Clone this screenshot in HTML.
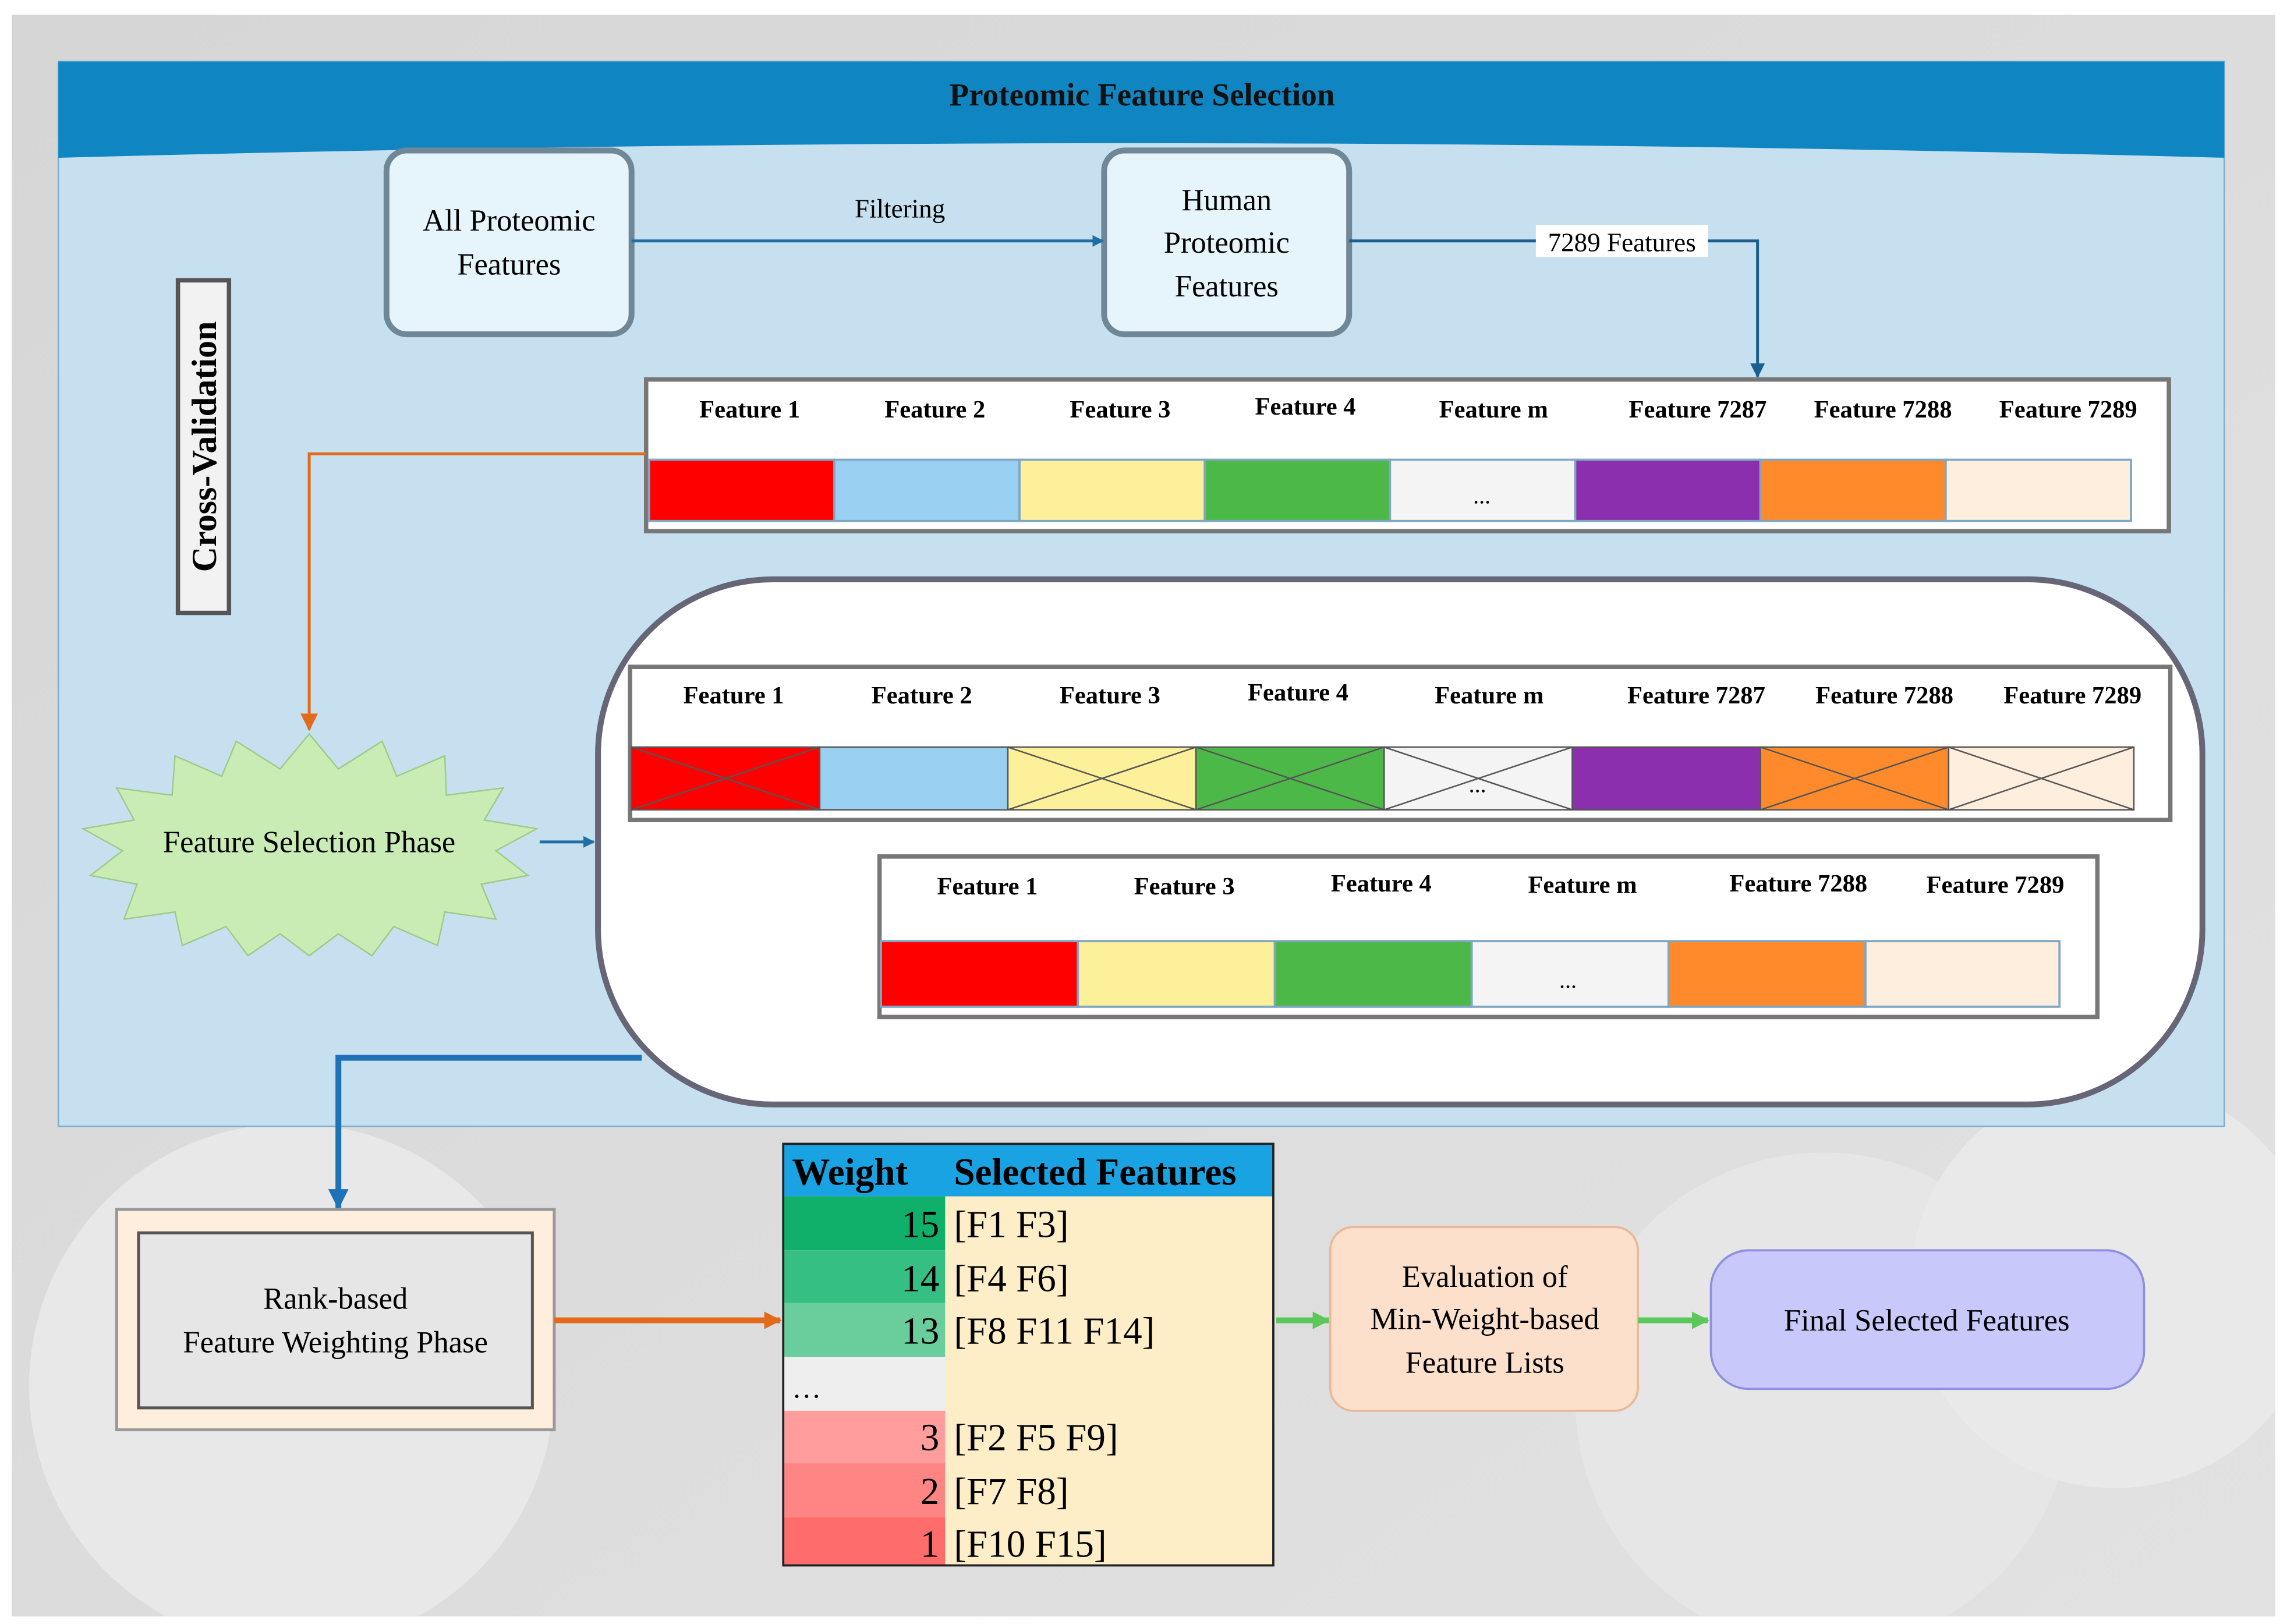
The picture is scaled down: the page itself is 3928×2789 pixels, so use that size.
<!DOCTYPE html>
<html><head><meta charset="utf-8"><style>
html,body{margin:0;padding:0;background:#fff}
svg{display:block}
text{font-family:"Liberation Serif",serif}
</style></head><body>
<svg width="3928" height="2789" viewBox="0 0 1568 1113" xmlns="http://www.w3.org/2000/svg">
<defs>
<linearGradient id="bg" x1="0" y1="0" x2="1" y2="1"><stop offset="0" stop-color="#d6d6d6"/><stop offset="1" stop-color="#e2e2e2"/></linearGradient>
<clipPath id="cp"><rect x="8" y="10" width="1552" height="1098"/></clipPath>
<marker id="ab" markerWidth="8" markerHeight="8" refX="7" refY="4" orient="auto" markerUnits="userSpaceOnUse"><path d="M0,0L8,4L0,8z" fill="#1f6fa5"/></marker>
<marker id="ad" markerWidth="10" markerHeight="10" refX="9" refY="5" orient="auto" markerUnits="userSpaceOnUse"><path d="M0,0L10,5L0,10z" fill="#1a5f8f"/></marker>
<marker id="ao" markerWidth="12" markerHeight="12" refX="11" refY="6" orient="auto" markerUnits="userSpaceOnUse"><path d="M0,0L12,6L0,12z" fill="#e26a1c"/></marker>
<marker id="ag" markerWidth="12" markerHeight="12" refX="11" refY="6" orient="auto" markerUnits="userSpaceOnUse"><path d="M0,0L12,6L0,12z" fill="#5cc85c"/></marker>
<marker id="abl" markerWidth="14" markerHeight="14" refX="13" refY="7" orient="auto" markerUnits="userSpaceOnUse"><path d="M0,0L14,7L0,14z" fill="#1d72b8"/></marker>
</defs>
<rect width="1568" height="1113" fill="#fff"/>
<rect x="8" y="10" width="1552" height="1098" fill="url(#bg)"/>
<g clip-path="url(#cp)">
<circle cx="200" cy="950" r="180" fill="#e8e8e8"/>
<circle cx="1250" cy="960" r="170" fill="#e6e6e6"/>
<circle cx="1450" cy="880" r="140" fill="#e9e9e9"/>
</g>
<!-- panel -->
<rect x="40" y="42" width="1485" height="730" fill="#c6e0f0" stroke="#7aaecf"/>
<path d="M40,42H1525V108Q783,88 40,108Z" fill="#0f86c2"/>
<text x="783" y="72" font-size="22" font-weight="bold" text-anchor="middle" fill="#111">Proteomic Feature Selection</text>
<!-- top boxes -->
<rect x="265" y="103" width="168" height="126" rx="14" fill="#e6f4fb" stroke="#6f8796" stroke-width="4"/>
<text x="349" y="158" font-size="21" text-anchor="middle">All Proteomic</text>
<text x="349" y="188" font-size="21" text-anchor="middle">Features</text>
<rect x="757" y="103" width="168" height="126" rx="14" fill="#e6f4fb" stroke="#6f8796" stroke-width="4"/>
<text x="841" y="144" font-size="21" text-anchor="middle">Human</text>
<text x="841" y="173" font-size="21" text-anchor="middle">Proteomic</text>
<text x="841" y="203" font-size="21" text-anchor="middle">Features</text>
<line x1="433" y1="165" x2="756" y2="165" stroke="#1f6fa5" stroke-width="2" marker-end="url(#ab)"/>
<text x="617" y="149" font-size="18" text-anchor="middle">Filtering</text>
<polyline points="925,165 1205,165 1205,258" fill="none" stroke="#1a5f8f" stroke-width="2" marker-end="url(#ad)"/>
<rect x="1053" y="154" width="118" height="22" fill="#fff"/>
<text x="1112" y="172" font-size="18" text-anchor="middle">7289 Features</text>
<!-- cross validation -->
<rect x="122" y="192" width="35" height="228" fill="#f2f2f2" stroke="#555" stroke-width="3"/>
<text transform="translate(148,306) rotate(-90)" font-size="24" font-weight="bold" text-anchor="middle">Cross-Validation</text>
<!-- table 1 -->
<rect x="443" y="260" width="1044" height="104" fill="#fff" stroke="#777" stroke-width="3"/>
<g font-size="17" font-weight="bold" text-anchor="middle">
<text x="514" y="286">Feature 1</text><text x="641" y="286">Feature 2</text><text x="768" y="286">Feature 3</text><text x="895" y="284">Feature 4</text><text x="1024" y="286">Feature m</text><text x="1164" y="286">Feature 7287</text><text x="1291" y="286">Feature 7288</text><text x="1418" y="286">Feature 7289</text>
</g>
<g stroke="#7fa7c4" stroke-width="1.5">
<rect x="445" y="315" width="127" height="42" fill="#ff0000"/><rect x="572" y="315" width="127" height="42" fill="#99d0f2"/><rect x="699" y="315" width="127" height="42" fill="#fdf09a"/><rect x="826" y="315" width="127" height="42" fill="#4cb848"/><rect x="953" y="315" width="127" height="42" fill="#f4f4f4"/><rect x="1080" y="315" width="127" height="42" fill="#8b2fae"/><rect x="1207" y="315" width="127" height="42" fill="#ff8a2c"/><rect x="1334" y="315" width="127" height="42" fill="#fdeedd"/>
</g>
<text x="1016" y="345" font-size="16" text-anchor="middle">...</text>
<polyline points="443,311 212,311 212,500" fill="none" stroke="#e26a1c" stroke-width="2" marker-end="url(#ao)"/>
<!-- star -->
<polygon points="212,503 232,527 262,508 272,532 305,518 306,545 345,540 332,562 368,568 340,583 362,600 330,606 340,630 305,625 300,648 270,635 255,655 232,640 212,655 192,640 170,655 155,635 125,648 120,625 85,630 94,606 62,600 84,583 57,568 92,562 80,540 118,545 120,518 152,532 162,508 192,527" fill="#c9ecb4" stroke="#9ccc88"/>
<text x="212" y="584" font-size="21" text-anchor="middle">Feature Selection Phase</text>
<line x1="370" y1="577" x2="407" y2="577" stroke="#1f6fa5" stroke-width="2" marker-end="url(#ab)"/>
<!-- big container -->
<rect x="410" y="397" width="1100" height="360" rx="120" fill="#fff" stroke="#667" stroke-width="4"/>
<!-- table 2 -->
<rect x="432" y="457" width="1056" height="105" fill="#fff" stroke="#777" stroke-width="3"/>
<g font-size="17" font-weight="bold" text-anchor="middle">
<text x="503" y="482">Feature 1</text><text x="632" y="482">Feature 2</text><text x="761" y="482">Feature 3</text><text x="890" y="480">Feature 4</text><text x="1021" y="482">Feature m</text><text x="1163" y="482">Feature 7287</text><text x="1292" y="482">Feature 7288</text><text x="1421" y="482">Feature 7289</text>
</g>
<g stroke="#555" stroke-width="1">
<rect x="433" y="512" width="129" height="43" fill="#ff0000"/><rect x="562" y="512" width="129" height="43" fill="#99d0f2"/><rect x="691" y="512" width="129" height="43" fill="#fdf09a"/><rect x="820" y="512" width="129" height="43" fill="#4cb848"/><rect x="949" y="512" width="129" height="43" fill="#f4f4f4"/><rect x="1078" y="512" width="129" height="43" fill="#8b2fae"/><rect x="1207" y="512" width="129" height="43" fill="#ff8a2c"/><rect x="1336" y="512" width="127" height="43" fill="#fdeedd"/>
<path d="M433,512L562,555M562,512L433,555M691,512L820,555M820,512L691,555M820,512L949,555M949,512L820,555M949,512L1078,555M1078,512L949,555M1207,512L1336,555M1336,512L1207,555M1336,512L1463,555M1463,512L1336,555" fill="none"/>
</g>
<text x="1013" y="543" font-size="16" text-anchor="middle">...</text>
<!-- table 3 -->
<rect x="603" y="587" width="835" height="110" fill="#fff" stroke="#777" stroke-width="3"/>
<g font-size="17" font-weight="bold" text-anchor="middle">
<text x="677" y="613">Feature 1</text><text x="812" y="613">Feature 3</text><text x="947" y="611">Feature 4</text><text x="1085" y="612">Feature m</text><text x="1233" y="611">Feature 7288</text><text x="1368" y="612">Feature 7289</text>
</g>
<g stroke="#7fa7c4" stroke-width="1.5">
<rect x="604" y="645" width="135" height="45" fill="#ff0000"/><rect x="739" y="645" width="135" height="45" fill="#fdf09a"/><rect x="874" y="645" width="135" height="45" fill="#4cb848"/><rect x="1009" y="645" width="135" height="45" fill="#f4f4f4"/><rect x="1144" y="645" width="135" height="45" fill="#ff8a2c"/><rect x="1279" y="645" width="133" height="45" fill="#fdeedd"/>
</g>
<text x="1075" y="677" font-size="16" text-anchor="middle">...</text>
<polyline points="440,725 232,725 232,828" fill="none" stroke="#1d72b8" stroke-width="4" marker-end="url(#abl)"/>
<!-- rank box -->
<rect x="80" y="829" width="300" height="151" fill="#fdeedd" stroke="#999" stroke-width="2"/>
<rect x="95" y="845" width="270" height="120" fill="#e6e6e6" stroke="#555" stroke-width="2"/>
<text x="230" y="897" font-size="21" text-anchor="middle">Rank-based</text>
<text x="230" y="927" font-size="21" text-anchor="middle">Feature Weighting Phase</text>
<line x1="380" y1="905" x2="535" y2="905" stroke="#e26a1c" stroke-width="4" marker-end="url(#ao)"/>
<!-- weight table -->
<rect x="537" y="784" width="336" height="289" fill="#fdeec8"/>
<rect x="537" y="784" width="336" height="36" fill="#1aa3e2"/>
<rect x="537" y="820" width="111" height="37" fill="#10b06a"/>
<rect x="537" y="857" width="111" height="36" fill="#36bf82"/>
<rect x="537" y="893" width="111" height="37" fill="#6acd9c"/>
<rect x="537" y="930" width="111" height="37" fill="#eeeeee"/>
<rect x="537" y="967" width="111" height="36" fill="#ff9c9c"/>
<rect x="537" y="1003" width="111" height="37" fill="#ff8585"/>
<rect x="537" y="1040" width="111" height="33" fill="#ff6c6c"/>
<rect x="537" y="784" width="336" height="289" fill="none" stroke="#222" stroke-width="1.5"/>
<text x="543" y="812" font-size="26" font-weight="bold">Weight</text>
<text x="654" y="812" font-size="26" font-weight="bold">Selected Features</text>
<g font-size="26">
<text x="644" y="848" text-anchor="end">15</text><text x="654" y="848">[F1 F3]</text>
<text x="644" y="885" text-anchor="end">14</text><text x="654" y="885">[F4 F6]</text>
<text x="644" y="921" text-anchor="end">13</text><text x="654" y="921">[F8 F11 F14]</text>
<text x="543" y="958" font-size="20">…</text>
<text x="644" y="994" text-anchor="end">3</text><text x="654" y="994">[F2 F5 F9]</text>
<text x="644" y="1031" text-anchor="end">2</text><text x="654" y="1031">[F7 F8]</text>
<text x="644" y="1067" text-anchor="end">1</text><text x="654" y="1067">[F10 F15]</text>
</g>
<line x1="875" y1="905" x2="911" y2="905" stroke="#5cc85c" stroke-width="4" marker-end="url(#ag)"/>
<rect x="912" y="841" width="211" height="126" rx="16" fill="#fde0cc" stroke="#e8b898" stroke-width="1.5"/>
<text x="1018" y="882" font-size="21" text-anchor="middle">Evaluation of</text>
<text x="1018" y="911" font-size="21" text-anchor="middle">Min-Weight-based</text>
<text x="1018" y="941" font-size="21" text-anchor="middle">Feature Lists</text>
<line x1="1123" y1="905" x2="1171" y2="905" stroke="#5cc85c" stroke-width="4" marker-end="url(#ag)"/>
<rect x="1173" y="857" width="297" height="95" rx="26" fill="#c8c8fa" stroke="#8f8fe0" stroke-width="1.5"/>
<text x="1321" y="912" font-size="21" text-anchor="middle">Final Selected Features</text>
</svg>
</body></html>
